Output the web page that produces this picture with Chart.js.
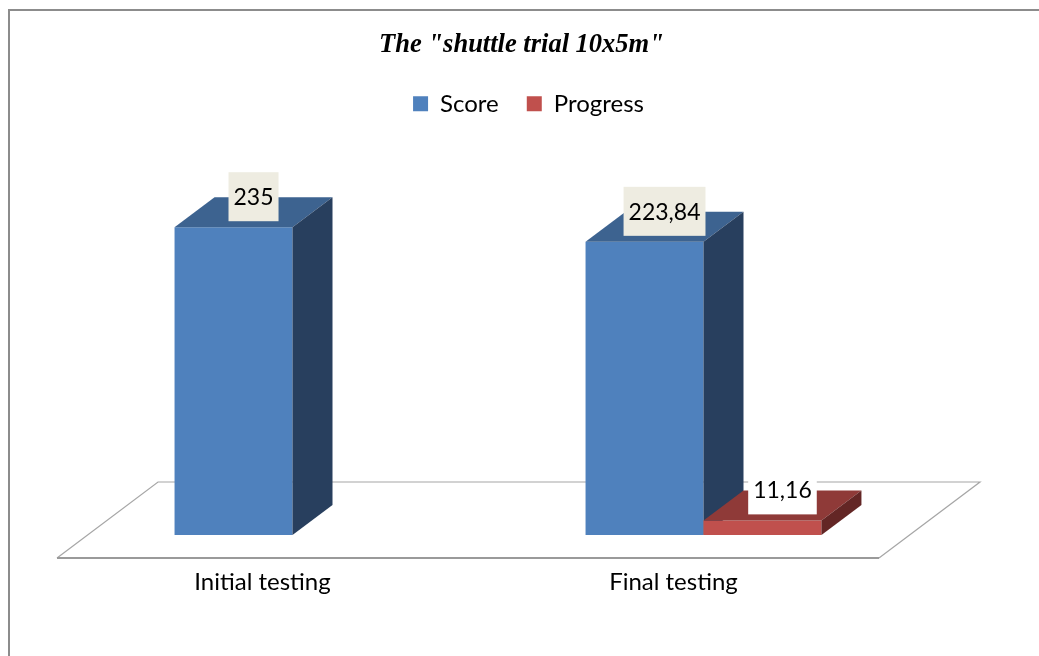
<!DOCTYPE html>
<html>
<head>
<meta charset="utf-8">
<script src="https://cdn.jsdelivr.net/npm/chart.js@4/dist/chart.umd.min.js"></script>
<style>
  html, body { margin: 0; padding: 0; background: #fff; }
  canvas { display: block; }
</style>
</head>
<body>
<canvas id="chart" width="1039" height="656"></canvas>
<script>
const categories = ['Initial testing', 'Final testing']
const scoreValues = [235, 223.84]
const progressValues = [null, 11.16]

// 3d look, in px
const barDepth = { dx: 40, dy: -30 }
const floorDepth = { dx: 101, dy: -76 }
const barShift = { dx: 30, dy: -23 }

const faces = [
  { front: '#4f81bd', top: '#3d6390', side: '#283f5e', label: '#eeece1' },
  { front: '#c0504d', top: '#8f3a38', side: '#632625', label: '#ffffff' }
]

const fmt = (v) => String(v).replace('.', ',')

function poly (ctx, pts, fill) {
  ctx.beginPath()
  ctx.moveTo(pts[0][0], pts[0][1])
  for (let i = 1; i < pts.length; i++) ctx.lineTo(pts[i][0], pts[i][1])
  ctx.closePath()
  ctx.fillStyle = fill
  ctx.fill()
}

const frame = {
  id: 'frame',
  beforeDraw (chart) {
    const ctx = chart.ctx
    ctx.save()
    ctx.strokeStyle = '#8c8c8c'
    ctx.lineWidth = 2
    ctx.strokeRect(9, 10, 1100, 700)
    ctx.restore()
  }
}

// title and legend sit a bit right of the canvas centre in the original
const nudge = {
  id: 'nudge',
  afterLayout (chart) {
    chart.legend.left += 9
    chart.legend.right += 9
    chart.titleBlock.left += 2
    chart.titleBlock.right += 2
  }
}

const bars3d = {
  id: 'bars3d',
  beforeDatasetsDraw (chart) {
    const { ctx, chartArea: a } = chart
    ctx.save()
    // floor
    const fl = [
      [a.left, a.bottom],
      [a.left + floorDepth.dx, a.bottom + floorDepth.dy],
      [a.right + floorDepth.dx, a.bottom + floorDepth.dy],
      [a.right, a.bottom]
    ]
    poly(ctx, fl, '#ffffff')
    ctx.strokeStyle = '#a6a6a6'
    ctx.lineWidth = 1.2
    ctx.beginPath()
    ctx.moveTo(fl[3][0], fl[3][1])
    ctx.lineTo(fl[2][0], fl[2][1])
    ctx.lineTo(fl[1][0], fl[1][1])
    ctx.lineTo(fl[0][0], fl[0][1])
    ctx.stroke()
    ctx.strokeStyle = '#9a9a9a'
    ctx.lineWidth = 2
    ctx.beginPath()
    ctx.moveTo(fl[0][0], fl[0][1])
    ctx.lineTo(fl[3][0], fl[3][1])
    ctx.stroke()

    const labels = []
    categories.forEach((c, i) => {
      chart.data.datasets.forEach((ds, d) => {
        const v = ds.data[i]
        if (v === null || v === undefined) return
        const bar = chart.getDatasetMeta(d).data[i]
        const p = bar.getProps(['x', 'y', 'base', 'width'], true)
        const f = faces[d]
        const l = p.x - p.width / 2 + barShift.dx
        const r = p.x + p.width / 2 + barShift.dx
        const t = p.y + barShift.dy
        const b = p.base + barShift.dy
        poly(ctx, [[l, t], [r, t], [r, b], [l, b]], f.front)
        poly(ctx, [[l, t], [l + barDepth.dx, t + barDepth.dy], [r + barDepth.dx, t + barDepth.dy], [r, t]], f.top)
        poly(ctx, [[r, t], [r + barDepth.dx, t + barDepth.dy], [r + barDepth.dx, b + barDepth.dy], [r, b]], f.side)
        labels.push({ text: fmt(v), cx: (l + r) / 2 + barDepth.dx / 2, bottom: t - 6, bg: f.label })
      })
    })

    // data labels
    ctx.font = '23px Lato'
    ctx.textAlign = 'center'
    ctx.textBaseline = 'middle'
    labels.forEach((lb) => {
      const w = ctx.measureText(lb.text).width + 10
      const h = 49
      ctx.fillStyle = lb.bg
      ctx.fillRect(lb.cx - w / 2, lb.bottom - h, w, h)
      ctx.fillStyle = '#000'
      ctx.fillText(lb.text, lb.cx, lb.bottom - h / 2 + 1)
    })
    ctx.restore()
    return false
  }
}

new Chart(document.getElementById('chart').getContext('2d'), {
  type: 'bar',
  data: {
    labels: categories,
    datasets: [
      {
        label: 'Score',
        data: scoreValues,
        backgroundColor: faces[0].front,
        categoryPercentage: 0.574,
        barPercentage: 1
      },
      {
        label: 'Progress',
        data: progressValues,
        backgroundColor: faces[1].front,
        categoryPercentage: 0.574,
        barPercentage: 1
      }
    ]
  },
  options: {
    responsive: false,
    animation: false,
    devicePixelRatio: 1,
    layout: { padding: 0 },
    scales: {
      x: {
        grid: { display: false, drawTicks: false },
        border: { display: false },
        ticks: { color: '#000', padding: 10, font: { family: 'Lato', size: 24 } },
        afterFit: (s) => { s.height = 98 }
      },
      y: {
        min: 0,
        max: 330,
        ticks: { display: false },
        grid: { display: false, drawTicks: false },
        border: { display: false },
        afterFit: (s) => { s.width = 57 }
      },
      y2: {
        position: 'right',
        ticks: { display: false },
        grid: { display: false, drawTicks: false },
        border: { display: false },
        afterFit: (s) => { s.width = 160 }
      }
    },
    plugins: {
      title: {
        display: true,
        text: 'The "shuttle trial 10x5m"',
        color: '#000',
        font: { family: 'Liberation Serif', size: 26.5, style: 'italic', weight: 'bold', lineHeight: 1.2 },
        padding: { top: 29, bottom: 3 }
      },
      legend: {
        display: true,
        labels: {
          color: '#000',
          boxWidth: 15,
          boxHeight: 15,
          padding: 28,
          font: { family: 'Lato', size: 24 }
        }
      },
      tooltip: { enabled: false }
    }
  },
  plugins: [frame, nudge, bars3d]
})
</script>
</body>
</html>
